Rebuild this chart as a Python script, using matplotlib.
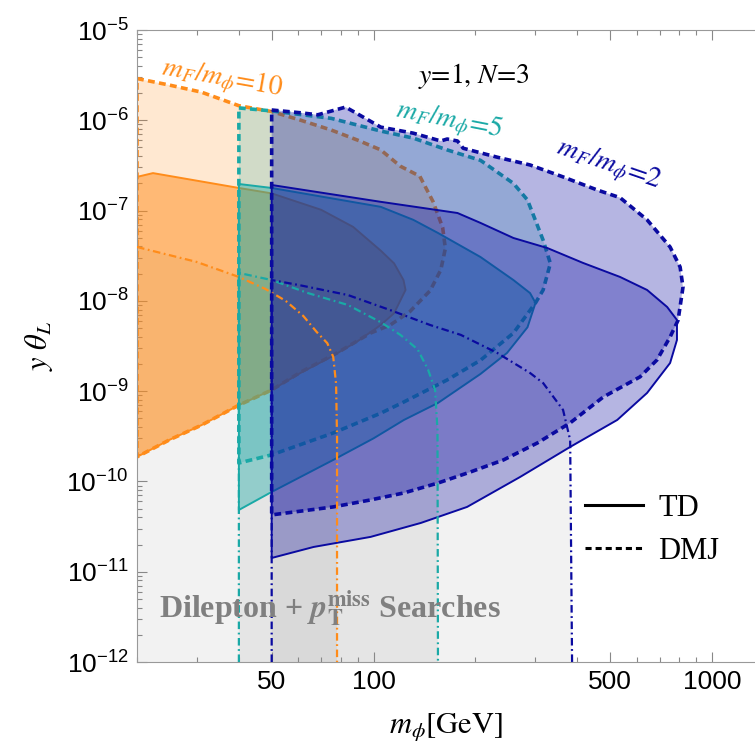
import matplotlib.pyplot as plt
from matplotlib.colors import to_rgba
from matplotlib.lines import Line2D
from matplotlib.ticker import FixedLocator, NullFormatter, LogLocator, LogFormatterMathtext

plt.rcParams['font.family'] = ['Liberation Sans', 'DejaVu Sans']
plt.rcParams['mathtext.fontset'] = 'stix'

Y_MIN, Y_MAX = 1e-12, 1e-5
X_MIN, X_MAX = 20, 1340

# m_F/m_phi = 10 (orange)
dmj10_m = [20, 25, 31, 40, 50, 61, 75, 90, 105, 120, 137, 150, 160, 163, 158, 147, 128, 112, 98, 78, 61, 50, 40, 31, 25, 20]
dmj10_y = [2.9e-6, 2.45e-6, 2.05e-6, 1.45e-6, 1.25e-6, 1.0e-6, 7.8e-7, 6.0e-7, 4.7e-7, 3.1e-7, 2.4e-7, 1.25e-7,
           6.5e-8, 3.8e-8, 2.2e-8, 1.3e-8, 7.6e-9, 5.4e-9, 4.4e-9, 2.65e-9, 1.63e-9, 1.03e-9, 7.0e-10, 4.2e-10,
           2.9e-10, 1.87e-10]
td10_m = [20, 22.3, 40, 50, 70, 87, 105, 115, 122.6, 124.3, 115, 105, 90, 75, 61, 50, 40, 31, 25, 20]
td10_y = [2.36e-7, 2.6e-7, 1.78e-7, 1.55e-7, 1.02e-7, 6.6e-8, 3.6e-8, 2.6e-8, 1.7e-8, 1.32e-8, 7.3e-9, 5.4e-9,
          3.6e-9, 2.4e-9, 1.6e-9, 1.03e-9, 7.0e-10, 4.2e-10, 2.9e-10, 1.87e-10]
dl10_m = [20, 30, 40, 48, 55, 62, 68, 73, 76, 77.5, 78, 78]
dl10_y = [3.95e-8, 2.7e-8, 1.84e-8, 1.35e-8, 1.0e-8, 6.8e-9, 4.5e-9, 3.4e-9, 2.4e-9, 1.2e-9, 3e-10, Y_MIN]

# m_F/m_phi = 5 (teal)
dmj5_m = [40, 50, 75, 105, 131, 165, 207, 259, 285, 317, 333, 317, 301, 259, 207, 165, 123, 105, 76, 50, 40]
dmj5_y = [1.37e-6, 1.27e-6, 1.05e-6, 7.6e-7, 6.35e-7, 4.7e-7, 3.6e-7, 2.0e-7, 1.31e-7, 4.7e-8, 2.6e-8, 1.32e-8,
          9.5e-9, 4.4e-9, 2.2e-9, 1.33e-9, 7.6e-10, 5.7e-10, 3.44e-10, 1.97e-10, 1.6e-10]
td5_m = [40, 50, 105, 131, 155, 207, 259, 290, 301, 285, 248, 207, 155, 123, 100, 76, 50, 40]
td5_y = [1.97e-7, 1.78e-7, 1.10e-7, 7.9e-8, 5.65e-8, 3.06e-8, 1.70e-8, 1.22e-8, 9.5e-9, 5.1e-9, 2.65e-9, 1.55e-9,
         7.4e-10, 4.8e-10, 3.0e-10, 1.73e-10, 7.65e-11, 4.83e-11]
dl5_m = [40, 40, 50, 64, 84, 105, 120, 135, 145, 152, 154.5, 155]
dl5_y = [Y_MIN, 2.04e-8, 1.7e-8, 1.22e-8, 9.0e-9, 5.8e-9, 4.2e-9, 2.9e-9, 1.72e-9, 1.03e-9, 3.7e-10, Y_MIN]

# m_F/m_phi = 2 (blue)
dmj2_m = [50, 61, 68.4, 82.7, 105, 131, 158, 165, 177, 184, 232, 290, 363, 458, 535, 643, 752, 805, 821, 794,
          752, 688, 613, 477, 381, 305, 242, 193, 155, 123, 98, 76, 50]
dmj2_y = [1.30e-6, 1.21e-6, 1.15e-6, 1.40e-6, 8.4e-7, 7.2e-7, 5.9e-7, 6.2e-7, 5.9e-7, 4.9e-7, 3.9e-7, 3.2e-7,
          2.36e-7, 1.69e-7, 1.39e-7, 7.9e-8, 3.95e-8, 2.37e-8, 1.42e-8, 6.1e-9, 3.98e-9, 2.22e-9, 1.44e-9,
          8.6e-10, 4.45e-10, 2.67e-10, 1.73e-10, 1.27e-10, 9.6e-11, 7.46e-11, 6.24e-11, 5.22e-11, 4.26e-11]
td2_m = [50, 105, 177, 207, 259, 326, 416, 535, 643, 737, 788, 788, 752, 643, 525, 381, 271, 189, 138, 98, 66.5, 50]
td2_y = [1.92e-7, 1.25e-7, 9.4e-8, 7.3e-8, 4.97e-8, 3.85e-8, 2.63e-8, 1.84e-8, 1.32e-8, 8.56e-9, 6.14e-9,
         3.69e-9, 2.05e-9, 9.55e-10, 4.8e-10, 2.41e-10, 1.12e-10, 5.22e-11, 3.47e-11, 2.43e-11, 1.88e-11, 1.42e-11]
dl2_m = [50, 50, 60, 84, 112, 147, 181, 232, 290, 317, 363, 381, 386]
dl2_y = [Y_MIN, 1.70e-8, 1.50e-8, 1.16e-8, 7.9e-9, 5.4e-9, 4.2e-9, 2.65e-9, 1.59e-9, 1.23e-9, 6.2e-10, 2.88e-10, Y_MIN]

c_or = '#FF8C1A'
c_te = '#1AA9A6'
c_bl = '#0A0AA0'

dash = (0, (1.9, 1.2))
dashdot = (0, (3.4, 1.6, 0.8, 1.6))

fig = plt.figure(figsize=(7.55, 7.49), dpi=100)
ax = fig.add_axes([137 / 755, 1 - 662 / 749, 618 / 755, 632 / 749])
ax.set_xscale('log')
ax.set_yscale('log')
ax.set_xlim(X_MIN, X_MAX)
ax.set_ylim(Y_MIN, Y_MAX)


def region(m, v, color, alpha, ls, lw, z):
    ax.fill(m, v, facecolor=to_rgba(color, alpha), edgecolor='none', zorder=z)
    ax.plot(list(m) + [m[0]], list(v) + [v[0]], color=color, ls=ls, lw=lw, zorder=z + 0.1)


# grey "dilepton + MET" excluded areas under the dot-dashed curves
for m, v in [(dl10_m, dl10_y), (dl5_m, dl5_y), (dl2_m, dl2_y)]:
    gm = list(m) + [m[-1], m[0]]
    gv = list(v) + [Y_MIN, Y_MIN]
    ax.fill(gm, gv, facecolor=(0, 0, 0, 0.05), edgecolor='none', zorder=1)

region(dmj10_m, dmj10_y, c_or, 0.2, dash, 2.6, 2)
region(td10_m, td10_y, c_or, 0.5, '-', 1.4, 2.2)
region(dmj5_m, dmj5_y, c_te, 0.2, dash, 2.6, 2.4)
region(td5_m, td5_y, c_te, 0.4, '-', 1.4, 2.6)
region(dmj2_m, dmj2_y, c_bl, 0.3, dash, 2.6, 2.8)
region(td2_m, td2_y, c_bl, 0.3, '-', 1.4, 3.0)

ax.plot(dl10_m, dl10_y, color=c_or, ls=dashdot, lw=1.6, zorder=5)
ax.plot(dl5_m, dl5_y, color=c_te, ls=dashdot, lw=1.6, zorder=5)
ax.plot(dl2_m, dl2_y, color=c_bl, ls=dashdot, lw=1.6, zorder=5)

# axes styling (Mathematica-like frame)
ax.set_xticks([50, 100, 500, 1000])
ax.set_xticklabels(['50', '100', '500', '1000'])
ax.xaxis.set_minor_locator(FixedLocator([20, 30, 40, 60, 70, 80, 90, 200, 300, 400, 600, 700, 800, 900]))
ax.xaxis.set_minor_formatter(NullFormatter())
ax.yaxis.set_major_locator(FixedLocator([1e-12, 1e-11, 1e-10, 1e-9, 1e-8, 1e-7, 1e-6, 1e-5]))
ax.yaxis.set_major_formatter(LogFormatterMathtext())
ax.yaxis.set_minor_locator(LogLocator(base=10, subs=range(2, 10), numticks=20))
ax.yaxis.set_minor_formatter(NullFormatter())
ax.tick_params(which='both', direction='in', top=True, right=False, color='#888888', width=0.8,
               labelsize=19, pad=6)
ax.tick_params(which='major', length=7)
ax.tick_params(which='minor', length=3.5)
ax.spines['right'].set_visible(False)
for s in ['left', 'bottom', 'top']:
    ax.spines[s].set_color('#999999')

ax.set_xlabel(r'$m_\phi\mathrm{[GeV]}$', fontsize=22, labelpad=12)
ax.set_ylabel(r'$y\ \theta_L$', fontsize=22, labelpad=8)

ax.text(0.137, 0.922, r'$m_F/m_\phi$=10', color=c_or, fontsize=20, rotation=-10, family='STIXGeneral',
        ha='center', va='center', transform=ax.transAxes, zorder=6)
ax.text(0.505, 0.856, r'$m_F/m_\phi$=5', color=c_te, fontsize=20, rotation=-11, family='STIXGeneral',
        ha='center', va='center', transform=ax.transAxes, zorder=6)
ax.text(0.763, 0.786, r'$m_F/m_\phi$=2', color=c_bl, fontsize=20, rotation=-19, family='STIXGeneral',
        ha='center', va='center', transform=ax.transAxes, zorder=6)
ax.text(0.545, 0.927, r'$y$=1, $N$=3', color='black', fontsize=20, family='STIXGeneral',
        ha='center', va='center', transform=ax.transAxes, zorder=6)
ax.text(0.312, 0.085, r'Dilepton + $\mathbfit{p}_{\mathbf{T}}^{\mathbf{miss}}$ Searches', color='#808080',
        fontsize=23, fontweight='bold', family='Liberation Serif', ha='center', va='center',
        transform=ax.transAxes, zorder=6)

handles = [Line2D([], [], color='black', lw=2.2, ls='-'),
           Line2D([], [], color='black', lw=2.2, ls=(0, (2.0, 1.3)))]
ax.legend(handles, ['TD', 'DMJ'], loc='center left', bbox_to_anchor=(585 / 755, 1 - 530 / 749),
          bbox_transform=fig.transFigure, prop={'family': 'Liberation Serif', 'size': 22},
          handlelength=1.9, handletextpad=0.5, labelspacing=0.45, frameon=False, borderpad=0,
          borderaxespad=0)

fig.savefig('out.png', dpi=100)
